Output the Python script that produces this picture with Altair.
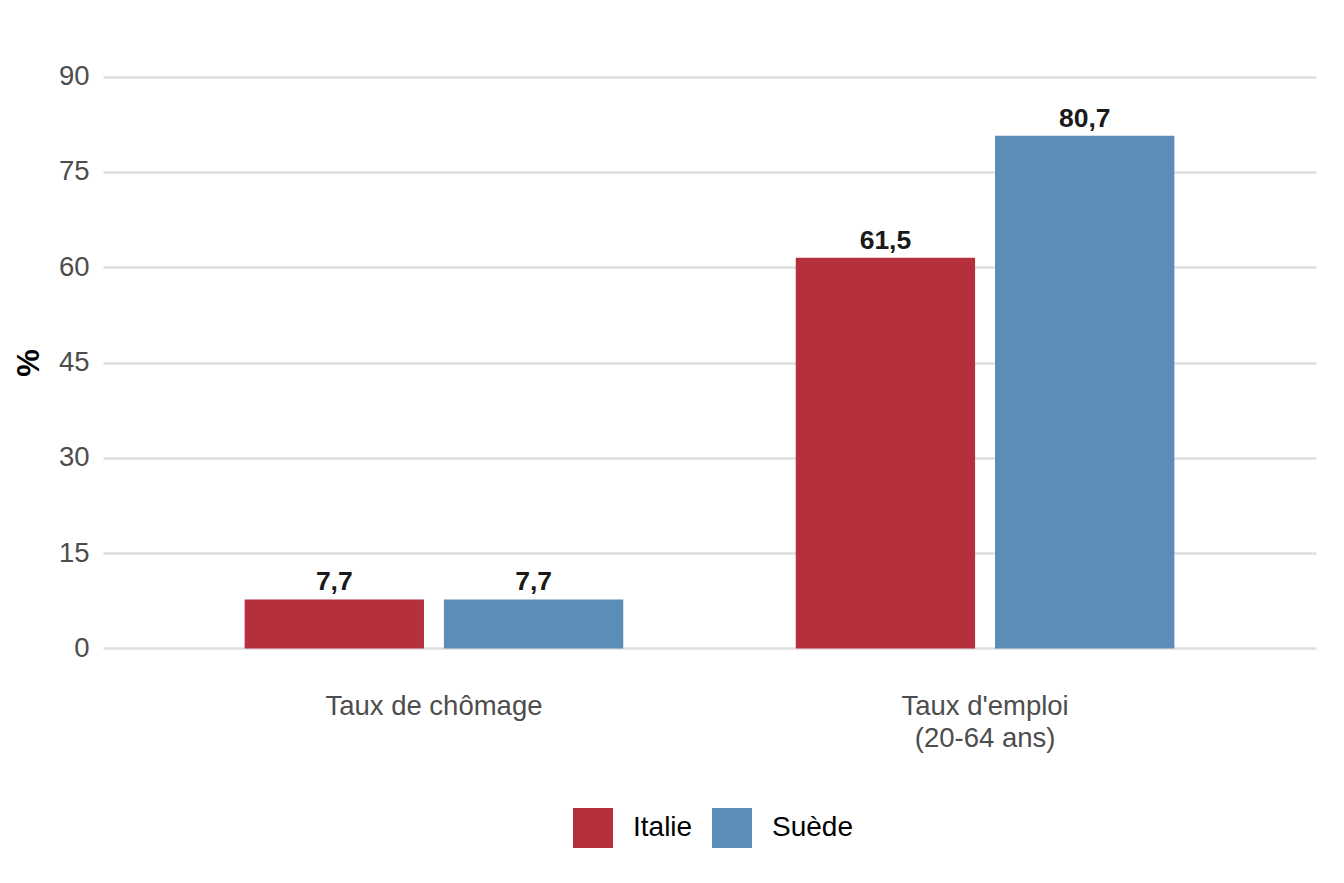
import altair as alt
import pandas as pd

categories = ["Taux de chômage", "Taux de chômage", "Taux d'emploi\n(20-64 ans)", "Taux d'emploi\n(20-64 ans)"]
countries = ["Italie", "Suède", "Italie", "Suède"]
values = [7.7, 7.7, 61.5, 80.7]
y_ticks = [0, 15, 30, 45, 60, 75, 90]
cat_order = ["Taux de chômage", "Taux d'emploi\n(20-64 ans)"]
country_order = ["Italie", "Suède"]
colors = ["#B5303C", "#5B8DB8"]

df = pd.DataFrame({"cat": categories, "pays": countries, "val": values})

FONT = "Liberation Sans"

x_enc = alt.X("cat:N", sort=cat_order, title=None,
              scale=alt.Scale(paddingInner=0.313, paddingOuter=0.257),
              axis=alt.Axis(labelExpr="split(datum.label, '\\n')", labelAngle=0,
                            labelFontSize=27.5, labelColor="#4d4d4d", labelFont=FONT,
                            labelPadding=15, labelLineHeight=32, labelLimit=0,
                            ticks=False, domain=False, grid=False))
xo_enc = alt.XOffset("pays:N", sort=country_order, scale=alt.Scale(paddingInner=0.1, paddingOuter=0))
y_scale = alt.Scale(domain=[-4.5, 94.5], nice=False, zero=False)

bars = alt.Chart(df).mark_bar().encode(
    x=x_enc,
    xOffset=xo_enc,
    y=alt.Y("val:Q", scale=y_scale, title="%",
            axis=alt.Axis(values=y_ticks, labelFontSize=27.5, labelColor="#4d4d4d", labelFont=FONT,
                          labelPadding=14, ticks=False, domain=False, grid=True,
                          gridColor="#dedede", gridWidth=2.5,
                          titleFontSize=31, titleFont=FONT, titleFontWeight="bold",
                          titleColor="#000000", titlePadding=13)),
    y2=alt.datum(0),
    color=alt.Color("pays:N", sort=country_order,
                    scale=alt.Scale(domain=country_order, range=colors),
                    legend=alt.Legend(title=None, orient="none", direction="horizontal",
                                      legendX=470, legendY=760,
                                      symbolType="square", symbolSize=1600,
                                      symbolStrokeWidth=0, labelFontSize=28,
                                      labelFont=FONT, labelColor="#000000",
                                      labelOffset=20, columnPadding=19, padding=0)),
)

labels = alt.Chart(df).transform_calculate(
    lab="replace(format(datum.val, '.1f'), '.', ',')"
).mark_text(baseline="alphabetic", dy=-9, fontSize=26.5, fontWeight="bold",
            font=FONT, color="#1a1a1a").encode(
    x=alt.X("cat:N", sort=cat_order),
    xOffset=alt.XOffset("pays:N", sort=country_order),
    y=alt.Y("val:Q", scale=y_scale),
    text="lab:N",
)

chart = alt.layer(bars, labels).properties(
    width=1213, height=629,
    padding={"left": 95, "top": 40, "right": 20, "bottom": 198},
    autosize=alt.AutoSizeParams(type="none"),
    background="white",
).configure_view(stroke=None)

chart.save("out.html", embed_options={"renderer": "svg", "actions": False})
